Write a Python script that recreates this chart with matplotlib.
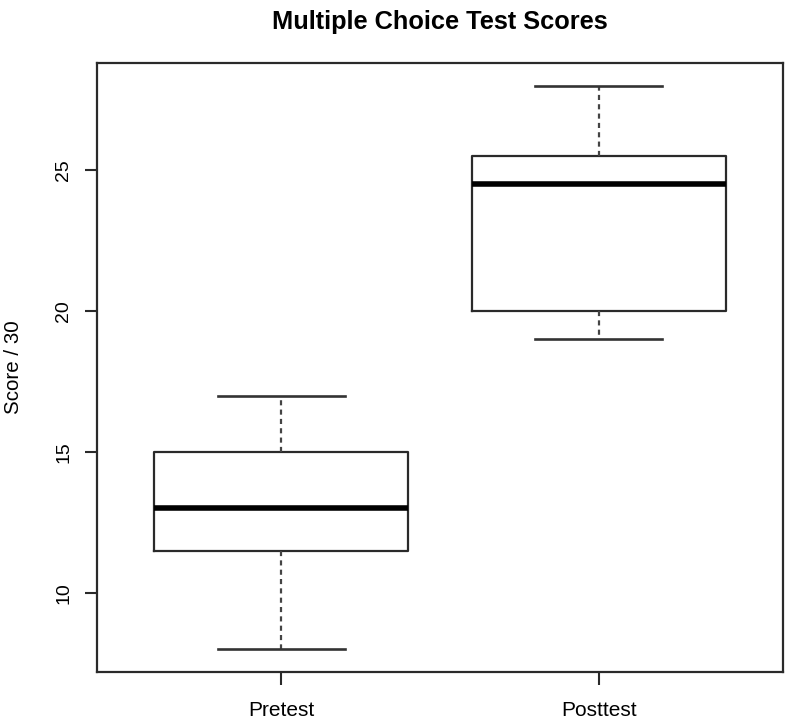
import matplotlib
matplotlib.use("Agg")
import matplotlib.pyplot as plt

plt.rcParams['font.family'] = ['Liberation Sans', 'DejaVu Sans']

groups = ["Pretest", "Posttest"]
mins = [8, 19]
q1s = [11.5, 20]
medians = [13, 24.5]
q3s = [15, 25.5]
maxs = [17, 28]
yticks = [10, 15, 20, 25]

stats = []
for g, lo, a, m, b, hi in zip(groups, mins, q1s, medians, q3s, maxs):
    stats.append(dict(label=g, whislo=lo, q1=a, med=m, q3=b, whishi=hi, fliers=[]))

fig = plt.figure(figsize=(7.87, 7.2), dpi=100)
ax = fig.add_axes([97/787, 48/720, 686/787, 609/720])

col = '#2a2a2a'
ax.bxp(stats, positions=[1, 2], widths=0.8, capwidths=0.4, showfliers=False,
       boxprops=dict(color=col, linewidth=1.6),
       medianprops=dict(color='black', linewidth=4, solid_capstyle='butt'),
       whiskerprops=dict(color='#444444', linewidth=1.6, linestyle=(0, (2.3, 1.9))),
       capprops=dict(color='#333333', linewidth=1.9))

ax.set_xlim(0.42, 2.58)
ax.set_ylim(7.2, 28.8)
ax.set_yticks(yticks)
ax.set_yticklabels([str(t) for t in yticks], rotation=90, va='center', fontsize=14)
ax.set_xticks([1, 2])
ax.set_xticklabels(groups, fontsize=15)
ax.tick_params(axis='both', length=9, width=1.5, color=col)
ax.tick_params(axis='x', pad=12)
ax.tick_params(axis='y', pad=9)
for s in ax.spines.values():
    s.set_linewidth(1.6)
    s.set_color(col)

ax.set_ylabel("Score / 30", fontsize=14.8, labelpad=23)
fig.text((97 + 783) / 2 / 787, 1 - 22/720, "Multiple Choice Test Scores",
         ha='center', va='center', fontsize=18.3, fontweight='bold')

fig.savefig("out.png", dpi=100)
